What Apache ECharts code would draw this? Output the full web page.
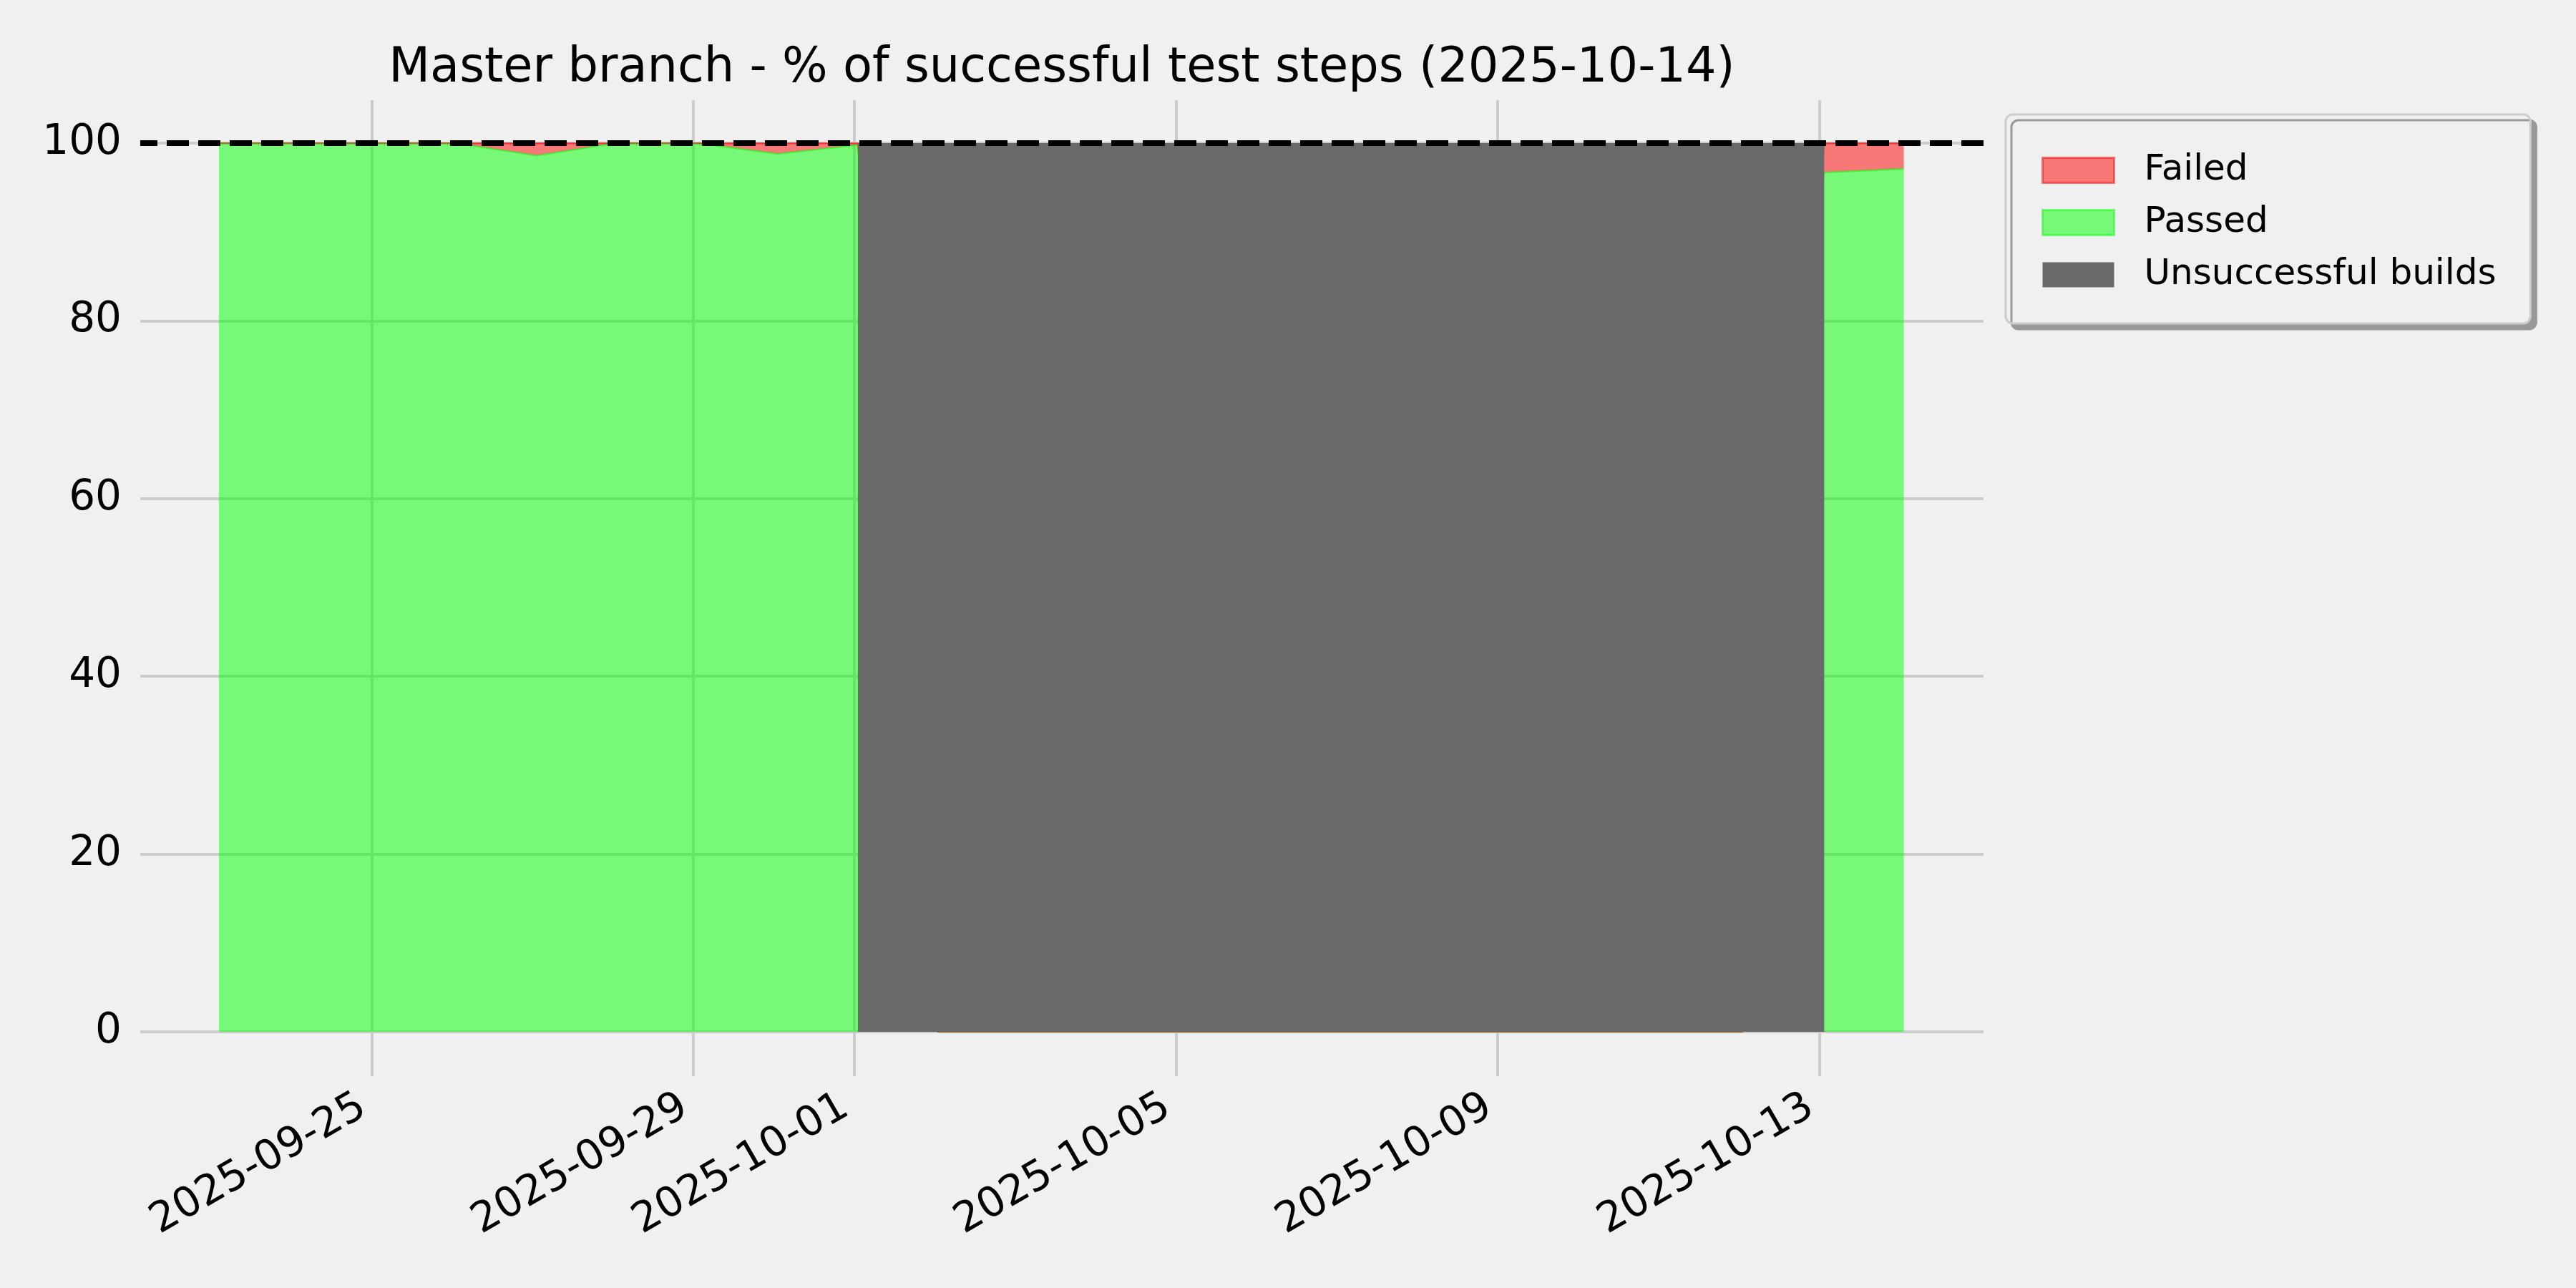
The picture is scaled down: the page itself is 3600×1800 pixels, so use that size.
<!DOCTYPE html>
<html>
<head>
<meta charset="utf-8">
<script src="https://cdn.jsdelivr.net/npm/echarts@6/dist/echarts.min.js"></script>
<style>
  html, body { margin: 0; padding: 0; background: #f0f0f0; }
  #chart { width: 3600px; height: 1800px; }
</style>
</head>
<body>
<div id="chart"></div>
<script>
// ---- data ----
const buildTimes = [
  '2025-09-23 02:25', '2025-09-24 01:00', '2025-09-25 01:00', '2025-09-26 01:00',
  '2025-09-27 01:10', '2025-09-28 01:00', '2025-09-29 01:00', '2025-09-30 01:10',
  '2025-10-01 01:05', '2025-10-02 01:00', '2025-10-03 01:00', '2025-10-04 01:00',
  '2025-10-05 01:00', '2025-10-06 01:00', '2025-10-07 01:00', '2025-10-08 01:00',
  '2025-10-09 01:00', '2025-10-10 01:00', '2025-10-11 01:00', '2025-10-12 01:00',
  '2025-10-13 01:25', '2025-10-14 01:10'
];
const passedPct = [100, 100, 100, 100, 98.6, 100, 100, 98.8, 99.8,
  0, 0, 0, 0, 0, 0, 0, 0, 0, 0, 0, 96.7, 97.1];
const failedPct = [0, 0, 0, 0, 1.4, 0, 0, 1.2, 0.2,
  0, 0, 0, 0, 0, 0, 0, 0, 0, 0, 0, 3.3, 2.9];
const unsuccessfulPct = [null, null, null, null, null, null, null, null, 100,
  100, 100, 100, 100, 100, 100, 100, 100, 100, 100, 100, 100, null];
const xTickDates = ['2025-09-25', '2025-09-29', '2025-10-01', '2025-10-05', '2025-10-09', '2025-10-13'];
const xRange = ['2025-09-22 02:56', '2025-10-15 00:58'];
const yTicks = [0, 20, 40, 60, 80, 100];
const targetLine = 100;
const titleText = 'Master branch - % of successful test steps (2025-10-14)';
const seriesNames = ['Failed', 'Passed', 'Unsuccessful builds'];

// ---- helpers ----
function ts(s) { return new Date(s.replace(' ', 'T') + (s.length === 10 ? 'T00:00:00' : ':00')).getTime(); }
function pairs(vals) { return buildTimes.map((t, i) => [ts(t), vals[i]]); }
const tickVals = xTickDates.map(ts);

const FONT = 'DejaVu Sans';
const GRID = '#cbcbcb';
const GREEN = 'rgba(0,255,0,0.5)';
const RED = 'rgba(255,0,0,0.5)';
const GRAY = '#696969';

const chart = echarts.init(document.getElementById('chart'), null, { renderer: 'canvas' });
chart.setOption({
  animation: false,
  backgroundColor: '#f0f0f0',
  textStyle: { fontFamily: FONT },
  title: {
    text: titleText,
    left: 1484,
    top: 63,
    padding: 0,
    textAlign: 'center',
    textStyle: { fontFamily: FONT, fontSize: 67, fontWeight: 'normal', color: '#000' }
  },
  legend: {
    orient: 'vertical',
    left: 2803,
    top: 160,
    icon: 'rect',
    itemWidth: 100,
    itemHeight: 35,
    itemGap: 23,
    padding: [53, 48, 43, 50],
    backgroundColor: '#f0f0f0',
    borderColor: '#cccccc',
    borderWidth: 3,
    borderRadius: 10,
    shadowColor: '#999999',
    shadowBlur: 0,
    shadowOffsetX: 8,
    shadowOffsetY: 8,
    selectedMode: false,
    textStyle: { fontFamily: FONT, fontSize: 50, color: '#000', lineHeight: 35, padding: [0, 0, 0, 37] },
    data: [
      { name: seriesNames[0], itemStyle: { color: RED, borderColor: RED, borderWidth: 3 } },
      { name: seriesNames[1], itemStyle: { color: GREEN, borderColor: GREEN, borderWidth: 3 } },
      { name: seriesNames[2], itemStyle: { color: GRAY, borderWidth: 0 } }
    ]
  },
  grid: { left: 196, right: 828, top: 200, bottom: 358, containLabel: false },
  xAxis: [
    {
      type: 'time',
      position: 'bottom',
      min: ts(xRange[0]),
      max: ts(xRange[1]),
      axisLine: { show: false },
      axisTick: { show: true, customValues: tickVals, length: 62, inside: false,
        lineStyle: { color: GRID, width: 4 } },
      axisLabel: { show: true, customValues: tickVals, rotate: 30, margin: 94,
        padding: [0, 14, 0, 0],
        fontSize: 58, color: '#000', fontFamily: FONT, hideOverlap: false,
        formatter: '{yyyy}-{MM}-{dd}' },
      splitLine: { show: true, lineStyle: { color: GRID, width: 4 } }
    },
    {
      type: 'time',
      position: 'top',
      min: ts(xRange[0]),
      max: ts(xRange[1]),
      axisLine: { show: false },
      axisTick: { show: true, customValues: tickVals, length: 60, inside: false,
        lineStyle: { color: GRID, width: 4 } },
      axisLabel: { show: false },
      splitLine: { show: false }
    }
  ],
  yAxis: {
    type: 'value',
    min: yTicks[0],
    max: yTicks[yTicks.length - 1],
    interval: yTicks[1] - yTicks[0],
    axisLine: { show: false },
    axisTick: { show: false },
    axisLabel: { fontSize: 58, color: '#000', fontFamily: FONT, margin: 26 },
    splitLine: { show: true, lineStyle: { color: GRID, width: 4 } }
  },
  series: [
    {
      name: seriesNames[1],
      type: 'line',
      stack: 'steps',
      data: pairs(passedPct),
      showSymbol: false,
      symbol: 'none',
      z: 2,
      lineStyle: { color: GREEN, width: 2.5 },
      itemStyle: { color: GREEN },
      areaStyle: { color: GREEN, opacity: 1 }
    },
    {
      name: seriesNames[0],
      type: 'line',
      stack: 'steps',
      data: pairs(failedPct),
      showSymbol: false,
      symbol: 'none',
      z: 2,
      lineStyle: { color: RED, width: 2.5 },
      itemStyle: { color: RED },
      areaStyle: { color: RED, opacity: 1 }
    },
    {
      name: seriesNames[2],
      type: 'line',
      data: pairs(unsuccessfulPct),
      connectNulls: false,
      showSymbol: false,
      symbol: 'none',
      z: 3,
      lineStyle: { width: 0, color: GRAY },
      itemStyle: { color: GRAY },
      areaStyle: { color: GRAY, opacity: 1 },
      markLine: {
        silent: true,
        symbol: ['none', 'none'],
        label: { show: false },
        lineStyle: { color: '#000', width: 8, type: [31, 13], dashOffset: 7, opacity: 1 },
        emphasis: { disabled: true },
        data: [{ yAxis: targetLine }]
      }
    }
  ]
});
</script>
</body>
</html>
